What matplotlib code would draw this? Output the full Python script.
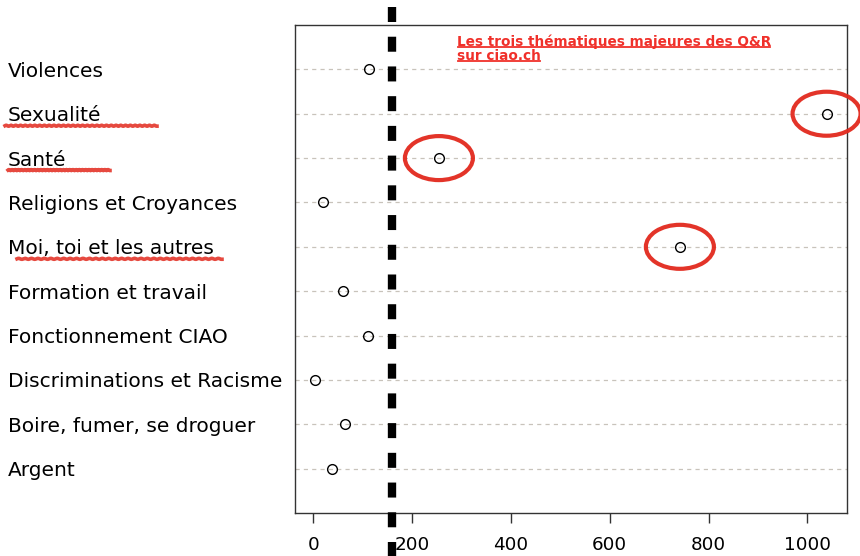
import matplotlib
matplotlib.use("Agg")
import matplotlib.pyplot as plt
from matplotlib.patches import Ellipse
from matplotlib.lines import Line2D
import numpy as np

plt.rcParams['font.family'] = ['DejaVu Sans']
plt.rcParams['lines.scale_dashes'] = False

# Data (top to bottom as displayed)
categories = ["Violences", "Sexualité", "Santé", "Religions et Croyances",
              "Moi, toi et les autres", "Formation et travail",
              "Fonctionnement CIAO", "Discriminations et Racisme",
              "Boire, fumer, se droguer", "Argent"]
values = [112, 1039, 254, 20, 742, 59, 110, 4, 63, 37]
reference_value = 160
highlighted = ["Sexualité", "Santé", "Moi, toi et les autres"]
x_ticks = [0, 200, 400, 600, 800, 1000]
annotation_lines = ["Les trois thématiques majeures des Q&R", "sur ciao.ch"]

W, H, DPI = 860, 556, 100
fig = plt.figure(figsize=(W / DPI, H / DPI), dpi=DPI)
fig.patch.set_facecolor('white')
left, right, top, bottom = 295, 847, 25, 513
ax = fig.add_axes([left / W, 1 - bottom / H, (right - left) / W, (bottom - top) / H])

n = len(categories)
ypos = np.arange(n, 0, -1)  # Violences at top

for y in ypos:
    ax.axhline(y, color='#c8c3bb', lw=0.9, ls=(0, (3, 3)), zorder=1)

ax.plot(values, ypos, 'o', mfc='none', mec='black', ms=7, mew=1.0, zorder=4)

lo, hi = min(values), max(values)
ext = 0.04 * (hi - lo)
ax.set_xlim(lo - ext, hi + ext)
ax.set_ylim(0, n + 1)

ax.set_xticks(x_ticks)
ax.set_xticklabels([str(t) for t in x_ticks], fontsize=13.2)
ax.tick_params(axis='x', length=7.2, width=1, pad=9, color='#333333')

ax.set_yticks(ypos)
ax.set_yticklabels(categories, fontsize=14.5)
pad_pts = (left - 8) * 72 / DPI
ax.tick_params(axis='y', length=0, pad=pad_pts)
for lab in ax.get_yticklabels():
    lab.set_horizontalalignment('left')

for sp in ax.spines.values():
    sp.set_color('#333333')
    sp.set_linewidth(1.0)

# Thick dashed reference line extending beyond the axes
trans = ax.get_xaxis_transform()
ln = Line2D([reference_value, reference_value], [1 + 18 / 488, -45 / 488],
            transform=trans, color='black', lw=6, solid_capstyle='butt',
            dash_capstyle='butt', clip_on=False, zorder=6,
            linestyle=(0, (10.8, 10.6)))
ax.add_line(ln)

# Red ellipses around highlighted points
red = '#e2291d'
x_per_px = (hi + 2 * ext - lo) / (right - left)
y_per_px = (n + 1) / (bottom - top)
for cat in highlighted:
    i = categories.index(cat)
    e = Ellipse((values[i], ypos[i]), width=68 * x_per_px, height=44 * y_per_px,
                fill=False, ec=red, lw=3.0, clip_on=False, zorder=5, alpha=0.95)
    ax.add_patch(e)

# Annotation text (red, bold, underlined)
ann_color = '#f0302a'
texts = []
for k, line in enumerate(annotation_lines):
    t = fig.text(457 / W, 1 - (42 + 14 * k) / H, line, color=ann_color,
                 fontsize=9.8, fontweight='bold', ha='left', va='center')
    texts.append(t)

fig.canvas.draw()
renderer = fig.canvas.get_renderer()
inv = fig.transFigure.inverted()
for t in texts:
    bb = t.get_window_extent(renderer)
    (x0, y0), (x1, y1) = inv.transform([(bb.x0, bb.y0), (bb.x1, bb.y1)])
    yl = y0 + 2.0 / H
    fig.add_artist(Line2D([x0 + 1 / W, x1 - 1 / W], [yl, yl], color=ann_color,
                          lw=1.3, transform=fig.transFigure))

# Hand-drawn-like red underlines under highlighted labels (pixel extents)
underline_px = {"Sexualité": (5, 157), "Santé": (8, 110),
                "Moi, toi et les autres": (17, 222)}
for cat in highlighted:
    i = categories.index(cat)
    yc = ax.transData.transform((0, ypos[i]))[1] - 12
    x0, x1 = underline_px[cat]
    xs = np.linspace(x0, x1, 200)
    ys = yc + 0.5 * np.sin(np.linspace(0, 200, 200))
    pts = inv.transform(np.column_stack([xs, ys]))
    fig.add_artist(Line2D(pts[:, 0], pts[:, 1], color=red, lw=2.6,
                          transform=fig.transFigure, alpha=0.85))

fig.savefig('out.png', dpi=DPI, facecolor='white')
